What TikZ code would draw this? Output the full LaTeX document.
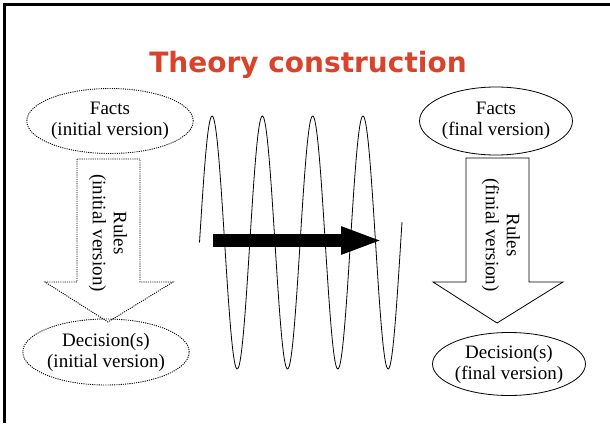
\documentclass[tikz,border=0pt]{standalone}
\usepackage{fontspec}
\setmainfont{Liberation Serif}
\newfontfamily\titlefont{DejaVu Sans}
\usetikzlibrary{arrows.meta,positioning,shapes.geometric}
\definecolor{titlered}{HTML}{D8432C}

\begin{document}
\begin{tikzpicture}[x=1pt,y=-1pt,
  lbl/.style={font=\fontsize{19}{21}\selectfont,align=center},
  oval/.style={ellipse,draw,line width=0.8pt,inner sep=0pt,lbl},
  dotline/.style={line width=0.9pt,dash pattern=on 1.1pt off 1.1pt},
  dotoval/.style={oval,dotline},
  solidline/.style={line width=0.8pt}]
  \useasboundingbox[fill=white] (0,0) rectangle (610,423);
  % Slide frame
  \draw[line width=2.5pt] (4.5,423) -- (4.5,4.7) -- (610,4.7);
  \node[font=\titlefont\bfseries\fontsize{28}{30}\selectfont,text=titlered,anchor=base] (title) at (308,72.7) {Theory construction};

  % Initial version
  \node[dotoval,minimum width=155pt,minimum height=65pt] (factsI) at (110,121) {Facts\\(initial version)};
  \node[dotoval,minimum width=153pt,minimum height=66pt] (decI) at (106,352) {Decision(s)\\(initial version)};
  \draw[dotline] (77,159) -- (77,282) -- (45,282) -- (108,322) -- (173,282) -- (140,282) -- (140,159) -- cycle;
  \node[lbl,rotate=-90] (rulesI) at (108,233) {Rules\\(initial version)};

  % Iterations
  \draw[solidline,samples=240,domain=0:202.5] plot ({\x+199.5},{242.5-126.5*sin(\x/50.3*360)});
  \coordinate (iterA) at (213,240.5);
  \coordinate (iterB) at (383,240.5);
  \draw[line width=13pt,-{Triangle[length=42pt,width=25pt]}] (iterA) -- (iterB);

  % Final version
  \node[oval,minimum width=152pt,minimum height=68pt] (factsF) at (496,121) {Facts\\(final version)};
  \node[oval,minimum width=148pt,minimum height=63pt] (decF) at (509,364) {Decision(s)\\(final version)};
  \draw[solidline] (466,158) -- (466,282) -- (433,282) -- (497,323) -- (563,282) -- (529,282) -- (529,158) -- cycle;
  \node[lbl,rotate=-90] (rulesF) at (501,235) {Rules\\(finial version)};
\end{tikzpicture}
\end{document}
